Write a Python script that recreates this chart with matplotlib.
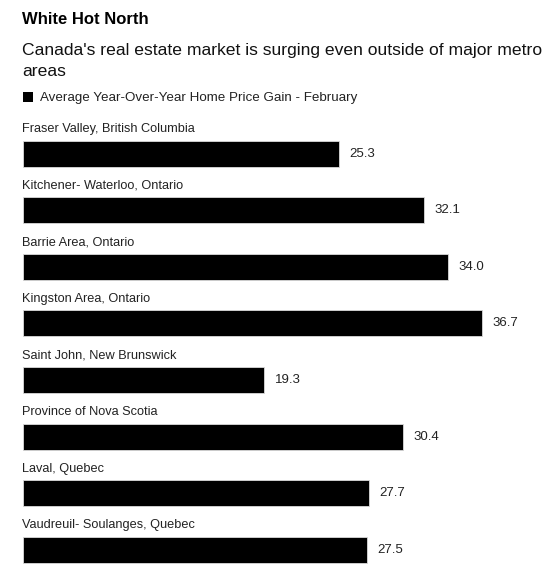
import matplotlib.pyplot as plt
from matplotlib.patches import Rectangle

plt.rcParams['font.family'] = ['Liberation Sans', 'DejaVu Sans']

regions = [
    "Fraser Valley, British Columbia",
    "Kitchener- Waterloo, Ontario",
    "Barrie Area, Ontario",
    "Kingston Area, Ontario",
    "Saint John, New Brunswick",
    "Province of Nova Scotia",
    "Laval, Quebec",
    "Vaudreuil- Soulanges, Quebec",
]
gains = [25.3, 32.1, 34.0, 36.7, 19.3, 30.4, 27.7, 27.5]
series_name = "Average Year-Over-Year Home Price Gain - February"

W, H = 554, 586
fig = plt.figure(figsize=(W / 100, H / 100), dpi=100)

# axes placed in pixel terms: bars start at x=23, 12.5 px per unit
left_px = 23
px_per_unit = 12.5
row_px = 56.6
top_px = 153.5 - row_px / 2
n = len(regions)
ax = fig.add_axes([left_px / W, 1 - (top_px + n * row_px) / H,
                   1 - left_px / W, n * row_px / H])
ax.set_xlim(0, (W - left_px) / px_per_unit)
ax.set_ylim(n - 0.5, -0.5)
ax.axis("off")

bar_h = 26 / row_px
ys = list(range(n))
ax.barh(ys, gains, height=bar_h, color="black", edgecolor="#d9d9d9", linewidth=0.6)

for y, name, v in zip(ys, regions, gains):
    ax.annotate(name, (0, y - bar_h / 2), xytext=(-0.5, 4), textcoords="offset points",
                ha="left", va="bottom", fontsize=9.2, color="#222222")
    ax.annotate(f"{v:.1f}", (v, y), xytext=(7.5, 0), textcoords="offset points",
                ha="left", va="center", fontsize=9.5, color="#222222")

# header
fig.text(22 / W, 1 - 19 / H, "White Hot North", fontsize=12, fontweight="bold",
         va="center", ha="left", color="black")
fig.text(22 / W, 1 - 50 / H, "Canada's real estate market is surging even outside of major metro",
         fontsize=12.6, va="center", ha="left", color="#111111")
fig.text(22 / W, 1 - 71 / H, "areas", fontsize=12.6, va="center", ha="left", color="#111111")

fig.patches.append(Rectangle((23 / W, 1 - 102 / H), 10 / W, 10 / H, transform=fig.transFigure,
                             facecolor="black", edgecolor="none"))
fig.text(40 / W, 1 - 97.5 / H, series_name, fontsize=9.6, va="center", ha="left", color="#222222")

fig.savefig("out.png", dpi=100)
